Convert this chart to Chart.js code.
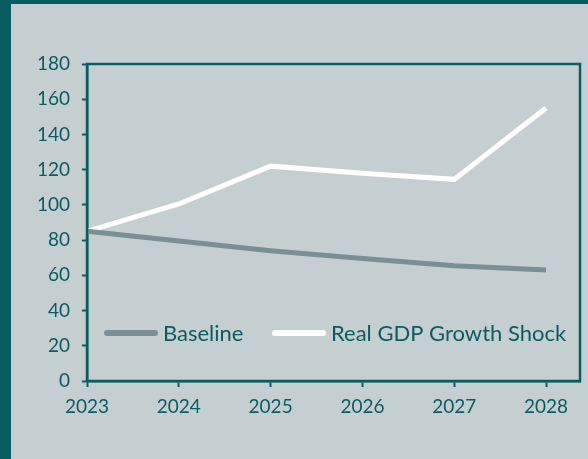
<!DOCTYPE html>
<html>
<head>
<meta charset="utf-8">
<script src="https://cdn.jsdelivr.net/npm/chart.js@4.4.1/dist/chart.umd.min.js"></script>
<style>
  html, body { margin: 0; padding: 0; background: #0a5c61; }
  #wrap {
    position: absolute; left: 11px; top: 4px;
    width: 577px; height: 455px;
    background: #c5cfd1;
  }
</style>
</head>
<body>
<div id="wrap"><canvas id="debtChart" width="577" height="455"></canvas></div>
<script>
const years = [2023, 2024, 2025, 2026, 2027, 2028];
const yearLabels = ["2023", "2024", "2025", "2026", "2027", "2028"];
const baseline = [85, 79.5, 74, 69.5, 65.5, 63];
const gdpShock = [85, 100.5, 122, 118, 114.5, 155];
const yTicks = [0, 20, 40, 60, 80, 100, 120, 140, 160, 180];

const teal = "#0a5c61";
const font = { family: "Lato", size: 19 };
const legendFont = { family: "Lato", size: 22 };

// legend drawn inside the plot, near the bottom, with rounded line swatches
const innerLegend = {
  id: "innerLegend",
  afterDatasetsDraw(chart) {
    const { ctx, chartArea } = chart;
    const y = chartArea.bottom - 48;
    const starts = [chartArea.left + 17, chartArea.left + 185];
    ctx.save();
    ctx.font = legendFont.size + "px " + legendFont.family;
    ctx.textBaseline = "middle";
    chart.data.datasets.forEach((ds, i) => {
      const x = starts[i];
      ctx.strokeStyle = ds.borderColor;
      ctx.lineWidth = 6;
      ctx.lineCap = "round";
      ctx.beginPath();
      ctx.moveTo(x + 3, y);
      ctx.lineTo(x + 51, y);
      ctx.stroke();
      ctx.fillStyle = teal;
      ctx.fillText(ds.label, x + 59, y + 1);
    });
    ctx.restore();
  },
};

// box around the plot area
const frame = {
  id: "frame",
  afterDraw(chart) {
    const { ctx, chartArea } = chart;
    ctx.save();
    ctx.strokeStyle = teal;
    ctx.lineWidth = 2.5;
    ctx.strokeRect(chartArea.left, chartArea.top, chartArea.right - chartArea.left, chartArea.bottom - chartArea.top);
    ctx.restore();
  },
};

const chart = new Chart(document.getElementById("debtChart"), {
  type: "line",
  data: {
    datasets: [
      {
        label: "Baseline",
        data: years.map((x, i) => ({ x: x, y: baseline[i] })),
        borderColor: "#798f94",
        borderWidth: 5,
        pointRadius: 0,
        tension: 0,
      },
      {
        label: "Real GDP Growth Shock",
        data: years.map((x, i) => ({ x: x, y: gdpShock[i] })),
        borderColor: "#ffffff",
        borderWidth: 5,
        pointRadius: 0,
        tension: 0,
      },
    ],
  },
  options: {
    responsive: false,
    animation: false,
    layout: { padding: { top: 60, right: 8, left: 0, bottom: 0 } },
    plugins: { legend: { display: false }, tooltip: { enabled: false } },
    scales: {
      x: {
        type: "linear",
        min: 2023,
        max: 2028.37,
        afterBuildTicks(axis) {
          axis.ticks = years.map((v) => ({ value: v }));
        },
        ticks: {
          color: teal,
          font: font,
          padding: 8,
          maxRotation: 0,
          callback: (v) => yearLabels[years.indexOf(v)],
        },
        grid: { drawOnChartArea: false, color: teal, tickLength: 6, tickWidth: 2 },
        border: { color: teal, width: 2.5 },
        afterFit(axis) { axis.height = 78; },
      },
      y: {
        min: 0,
        max: 180,
        afterBuildTicks(axis) {
          axis.ticks = yTicks.map((v) => ({ value: v }));
        },
        ticks: { color: teal, font: font, padding: 12 },
        grid: { drawOnChartArea: false, color: teal, tickLength: 5, tickWidth: 2 },
        border: { color: teal, width: 2.5 },
        afterFit(axis) { axis.width = 76; },
      },
    },
  },
  plugins: [innerLegend, frame],
});
</script>
</body>
</html>
